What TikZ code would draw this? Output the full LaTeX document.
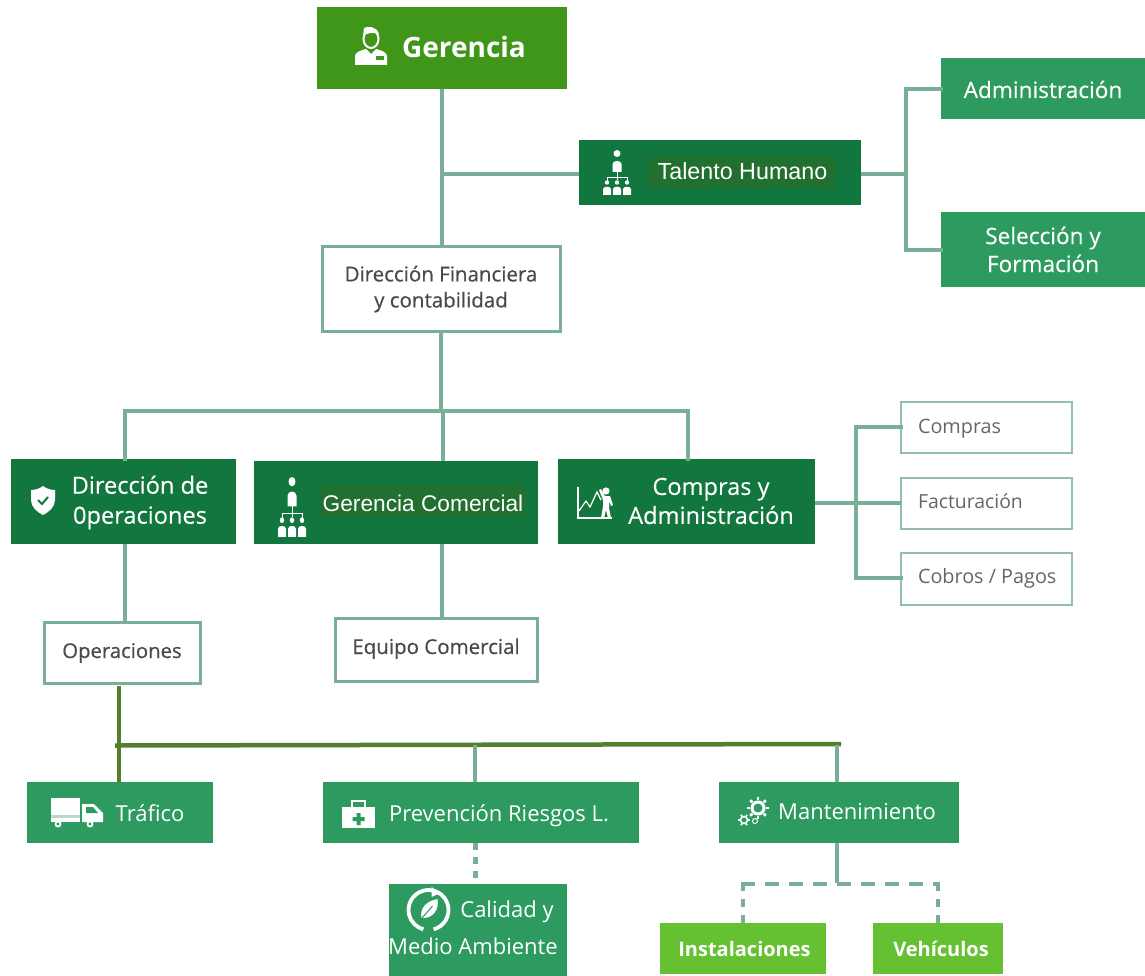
\documentclass[tikz,border=0pt]{standalone}
\usepackage{fontspec}
\setmainfont{Open Sans}
\newfontfamily\arialf{Liberation Sans}
\newfontfamily\semif{Open Sans}[FakeBold=0.5]
\newfontfamily\medf{Open Sans}[FakeBold=0.25]
\definecolor{cGer}{HTML}{3F9618}
\definecolor{cDark}{HTML}{12773F}
\definecolor{cMid}{HTML}{2D9B5F}
\definecolor{cLight}{HTML}{66C132}
\definecolor{cLine}{HTML}{78AF96}
\definecolor{cOlive}{HTML}{547F2F}
\definecolor{cHi}{HTML}{22702F}
\definecolor{cTxt}{HTML}{4A4A4A}
\definecolor{cTxtB}{HTML}{666666}
\newcommand\fs[2]{\fontsize{#1pt}{#2pt}\selectfont}
\newcommand\bx[7]{%
  \pgfmathsetmacro\bcx{(#3+#5)/2}\pgfmathsetmacro\bcy{(#4+#6)/2}%
  \pgfmathsetmacro\bw{#5-#3}\pgfmathsetmacro\bh{#6-#4}%
  \node[#2,minimum width=\bw pt,minimum height=\bh pt] (#1) at (\bcx,\bcy) {#7};}
\tikzset{
  boxbase/.style={rectangle,inner sep=0pt,outer sep=0pt,align=center,text=white},
  gerbox/.style={boxbase,fill=cGer},
  darkbox/.style={boxbase,fill=cDark},
  midbox/.style={boxbase,fill=cMid},
  lightbox/.style={boxbase,fill=cLight},
  whitebox/.style={boxbase,fill=white,draw=cLine,line width=3pt,text=cTxt},
  thinbox/.style={boxbase,fill=white,draw=cLine!80!white,line width=1.4pt},
  lbl/.style={inner sep=0pt,outer sep=0pt,align=center,text=white,anchor=base},
  lblm/.style={inner sep=0pt,outer sep=0pt,align=center,text=white},
  sidelbl/.style={inner sep=0pt,outer sep=0pt,anchor=base west,text=cTxtB},
  conn/.style={draw=cLine,line width=4pt},
  connolive/.style={draw=cOlive,line width=4.5pt},
  conndash/.style={draw=cLine,line width=4pt,dash pattern=on 14pt off 10pt},
  conndashv/.style={draw=cLine,line width=4pt,dash pattern=on 8pt off 8pt},
  conndot/.style={draw=cLine,line width=5pt,dash pattern=on 7pt off 7pt},
  ico/.style={fill=white,draw=none},
}
\newcommand\orgicon[3]{%
 \begin{scope}[shift={(#1,#2)},yscale=#3]
  \fill[ico] (15,3.5) circle[radius=3.5];
  \fill[ico] (10.5,22) -- (10.5,14) .. controls (10.5,10) and (19.5,10) .. (19.5,14) -- (19.5,22) -- cycle;
  \draw[white,line width=.6pt] (15,22) -- (15,30) (5,31) -- (5,27) -- (25,27) -- (25,31);
  \foreach \xx in {5,15,25}{
   \fill[ico] (\xx,32.5) circle[radius=2.2];
   \fill[ico] (\xx-4,45) -- (\xx-4,39) .. controls (\xx-4,36) and (\xx+4,36) .. (\xx+4,39) -- (\xx+4,45) -- cycle;}
 \end{scope}}
\begin{document}
\begin{tikzpicture}[x=1pt,y=-1pt]
\useasboundingbox (0,0) rectangle (1145,976);
% boxes
\bx{ger}{gerbox}{317}{7}{567}{89}{}
\bx{th}{darkbox}{579}{140}{861}{205}{}
\bx{adm}{midbox,font=\medf\fs{22.6}{28},text height=19pt,text depth=0pt}{941}{58}{1145}{119}{Administración}
\bx{sel}{midbox,font=\medf\fs{22.6}{28}}{941}{212}{1145}{287}{Selección y\\Formación}
\bx{fin}{whitebox,font=\semif\fs{20.5}{26}}{322}{247}{560}{331}{Dirección Financiera\\y contabilidad}
\bx{dop}{darkbox}{11}{459}{236}{544}{}
\bx{gco}{darkbox}{254}{461}{538}{544}{}
\bx{cad}{darkbox}{558}{459}{815}{544}{}
\bx{cpr}{thinbox}{901}{402}{1072}{453}{}
\bx{fac}{thinbox}{901}{478}{1072}{529}{}
\bx{cob}{thinbox}{901}{553}{1072}{605}{}
\bx{ope}{whitebox,font=\semif\fs{20.3}{24},text height=11pt,text depth=0pt}{44}{622}{200}{683}{Operaciones}
\bx{eqc}{whitebox,font=\semif\fs{20.5}{24},text height=9pt,text depth=0pt}{335}{618}{537}{681}{Equipo Comercial}
\bx{tra}{midbox}{27}{782}{213}{843}{}
\bx{pre}{midbox}{323}{782}{639}{843}{}
\bx{man}{midbox}{719}{782}{959}{843}{}
\bx{cal}{midbox}{389}{884}{567}{976}{}
\bx{ins}{lightbox,font=\fs{20}{24}\bfseries,text height=16pt,text depth=0pt}{660}{923}{826}{974}{\hspace*{3pt}Instalaciones}
\bx{veh}{lightbox,font=\fs{20}{24}\bfseries,text height=16pt,text depth=0pt}{873}{923}{1003}{974}{\hspace*{6pt}Vehículos}
% connectors
\coordinate (jth) at (442,174);
\coordinate (jcha) at (906,174);
\coordinate (jcom) at (856,503);
\coordinate (jfin) at (441,411);
\coordinate (jope) at (119,745);
\coordinate (jman) at (837,883);
\draw[conn] (442,89) -- (442,247);
\draw[conn] (jth -| th.west) -- (jth);
\draw[conn] (jth -| th.east) -- (jcha);
\draw[conn,line cap=rect] (941,89) -| (jcha) |- (941,250);
\draw[conn] (441,331) -- (jfin);
\draw[conn,line cap=rect] (125,459) -- (125,411) -- (688,411) -- (688,459);
\draw[conn] (443,411) -- (443,461);
\draw[conn] (cad.east |- jcom) -- (jcom);
\draw[conn,line cap=rect] (cpr.west |- 0,427) -| (jcom) |- (cob.west |- 0,578);
\draw[conn] (jcom) -- (fac.west |- jcom);
\draw[conn] (125,544) -- (125,622);
\draw[conn] (442,544) -- (442,618);
\draw[connolive] (119,686) -- (119,782);
\draw[connolive] (115,745.5) -- (841,744);
\draw[conn] (475,745) -- (475,782);
\draw[conn] (837,745) -- (837,782);
\draw[conn] (837,843) -- (jman);
\draw[conndash] (741,884) -- (940,884);
\draw[conndashv] (743,923) -- (743,884);
\draw[conndashv] (938,923) -- (938,884);
\draw[conndot] (475,843) -- (475,884);
% highlights + labels
\fill[cHi] (648,157) rectangle (835,188);
\fill[cHi] (320,485) rectangle (525,516);
\node[lbl] (tger) at (464,58) {\fs{28}{30}\bfseries Gerencia};
\node[lbl] (tth) at (742.5,180) {\arialf\fs{23.3}{26}Talento Humano};
\node[lblm,font=\medf\fs{23.6}{30}] (tdop) at (140,502.5) {Dirección de\\0peraciones};
\node[lbl] (tgco) at (423,511) {\arialf\fs{22.7}{26}Gerencia Comercial};
\node[lblm,font=\medf\fs{23.6}{29}] (tcad) at (711,501) {Compras y\\Administración};
\node[sidelbl] (tcpr) at (918,433) {\fs{19.8}{24}Compras};
\node[sidelbl] (tfac) at (918,508) {\fs{19.4}{24}Facturación};
\node[sidelbl] (tcob) at (918,583) {\fs{19.8}{24}Cobros / Pagos};
\node[lbl] (ttra) at (150,821) {\fs{22}{26}Tráfico};
\node[lbl] (tpre) at (499,821) {\fs{22}{26}Prevención Riesgos L.};
\node[lbl] (tman) at (857,819) {\fs{22}{26}Mantenimiento};
\node[lbl] (tcal) at (507,917) {\fs{22}{26}Calidad y};
\node[lbl] (tmed) at (473,954) {\fs{22}{26}Medio Ambiente};
% icon: person
\begin{scope}[shift={(371,47)}]
 \draw[white,line width=2pt] (0,-8) ellipse (7.5 and 9);
 \fill[ico] (-7,-19) .. controls (-4,-21) and (6,-21) .. (8,-13) .. controls (2,-15) and (-5,-14) .. (-8,-11) -- cycle;
 \fill[ico] (-16,18) -- (-16,9) .. controls (-16,5) and (-9,3) .. (-5,2) -- (0,7) -- (5,2) .. controls (9,3) and (16,5) .. (16,9) -- (16,18) -- cycle;
 \fill[cGer] (5,9) rectangle (13,13);
\end{scope}
\orgicon{602}{150}{1}
\orgicon{277}{477}{1.33}
% shield
\begin{scope}[shift={(43,500)}]
 \fill[ico] (0,-14) .. controls (4,-11) and (8,-10) .. (12,-10) -- (12,0) .. controls (12,7) and (6,12) .. (0,15) .. controls (-6,12) and (-12,7) .. (-12,0) -- (-12,-10) .. controls (-8,-10) and (-4,-11) .. (0,-14) -- cycle;
 \draw[cDark,line width=2pt] (-5,0) -- (-1,4) -- (5,-3);
\end{scope}
% chart person
\begin{scope}[shift={(577,486)}]
 \draw[white,line width=1.2pt] (1,1) -- (1,32) -- (35,32);
 \draw[white,line width=1.2pt] (2,25) -- (9,15) -- (13,21) -- (20,6) -- (24,14);
 \fill[ico] (29,5) circle[radius=3.6];
 \fill[ico] (22,4) -- (24,3) -- (28,10) -- (33,10) -- (36,19) -- (34,20) -- (32,15) -- (32,22) -- (34,32) -- (31,32) -- (29,24) -- (27,32) -- (24,32) -- (26,20) -- (26,14) -- cycle;
\end{scope}
% truck
\begin{scope}[shift={(51,798)}]
 \fill[ico] (0,0) rectangle (29,24);
 \fill[cMid!35!white] (0,17) rectangle (29,20);
 \fill[ico] (31,6) -- (43,6) -- (52,15) -- (52,24) -- (31,24) -- cycle;
 \fill[cMid] (35,9) -- (42,9) -- (47,15) -- (35,15) -- cycle;
 \fill[ico] (7,26) circle[radius=3.5] (39,26) circle[radius=3.5];
 \fill[cMid] (7,26) circle[radius=1.7] (39,26) circle[radius=1.7];
\end{scope}
% medkit
\begin{scope}[shift={(342,800)}]
 \fill[ico] (0,7) rectangle (33,28);
 \draw[white,line width=1.6pt] (10,7) -- (10,1) -- (23,1) -- (23,7);
 \fill[cMid] (14.5,13) rectangle (18.5,25) (10.5,17) rectangle (22.5,21);
\end{scope}
% gears
\begin{scope}[shift={(738,798)}]
 \draw[white,line width=3pt] (20,10) circle[radius=6];
 \foreach \a in {0,45,...,315}{\draw[white,line width=2.6pt] (20,10) ++(\a:8) -- ++(\a:3);}
 \draw[white,line width=1.6pt] (6,22) circle[radius=3.5];
 \foreach \a in {0,60,...,300}{\draw[white,line width=1.6pt] (6,22) ++(\a:4) -- ++(\a:2);}
 \draw[white,line width=1pt] (17,23) circle[radius=2.5];
\end{scope}
% recycle leaf
\begin{scope}[shift={(428.5,910)}]
 \draw[white,line width=3.8pt] (75:20) arc[start angle=75,end angle=-255,radius=20];
 \fill[ico] (3,-23) -- (12,-17) -- (3,-13) -- cycle;
 \fill[ico] (-7,8) .. controls (-9,-2) and (-2,-9) .. (9,-11) .. controls (11,0) and (4,9) .. (-7,8) -- cycle;
 \draw[cMid,line width=1pt] (-10,12) -- (4,-4);
\end{scope}
\end{tikzpicture}
\end{document}
